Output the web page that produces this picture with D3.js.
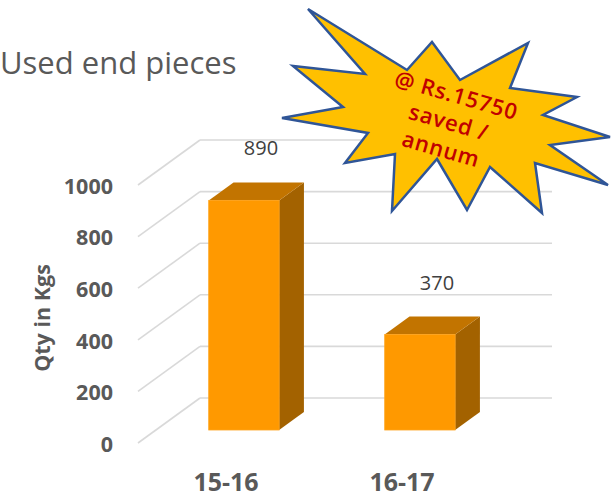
<!DOCTYPE html>
<html>
<head>
<meta charset="utf-8">
<script src="https://cdn.jsdelivr.net/npm/d3@7"></script>
<style>
  html, body { margin: 0; padding: 0; background: #fff; }
  svg { display: block; font-family: "Open Sans", "Noto Sans", sans-serif; }
</style>
</head>
<body>
<svg id="chart" width="616" height="497"></svg>
<script>
// Quantity of used end pieces per financial year (kg)
const categories = ["15-16", "16-17"];
const quantities = [890, 370];
const yTicks = [0, 200, 400, 600, 800, 1000];
const chartTitle = "Used end pieces";
const yAxisTitle = "Qty in Kgs";
const calloutLines = ["@ Rs.15750", "saved /", "annum"];

const svg = d3.select("#chart");

// Back wall of the 3D plot area
const wallLeft = 200, wallRight = 552;
const y = d3.scaleLinear().domain([0, 1000]).range([398, 140]);
const x = d3.scaleBand().domain(categories).range([wallLeft, wallRight]).paddingInner(0.6).paddingOuter(0.3);

// Oblique depth projection: depth 0 = back wall, 1 = front edge of the floor
const depthDX = -62, depthDY = 45;
const proj = (px, py, d) => [px + depthDX * d, py + depthDY * d];

// Back-wall gridlines and floor/side diagonals
const grid = svg.append("g").attr("stroke", "#d9d9d9").attr("stroke-width", 1.6).attr("fill", "none");
yTicks.forEach(t => {
  const yy = y(t);
  grid.append("line").attr("x1", wallLeft).attr("x2", wallRight).attr("y1", yy).attr("y2", yy);
  const [fx, fy] = proj(wallLeft, yy, 1);
  grid.append("line").attr("x1", fx).attr("y1", fy).attr("x2", wallLeft).attr("y2", yy);
});

// Tick labels on the front edge
svg.append("g").selectAll("text").data(yTicks).join("text")
  .attr("x", 113)
  .attr("y", d => proj(wallLeft, y(d), 1)[1] + 3)
  .attr("text-anchor", "end")
  .attr("dominant-baseline", "middle")
  .attr("font-size", 21.5)
  .attr("font-weight", 700)
  .attr("fill", "#595959")
  .text(d => d);

// Axis title
svg.append("text")
  .attr("transform", "translate(50,318) rotate(-90)")
  .attr("text-anchor", "middle")
  .attr("font-size", 21.5)
  .attr("font-weight", 700)
  .attr("fill", "#595959")
  .text(yAxisTitle);

// 3D columns
const dFront = 0.711, dBack = 0.311;
const bars = svg.append("g");
categories.forEach((c, i) => {
  const v = quantities[i];
  const x0 = x(c), x1 = x(c) + x.bandwidth();
  const yt = y(v), yb = y(0);
  const F = (px, py) => proj(px, py, dFront);
  const B = (px, py) => proj(px, py, dBack);
  const poly = pts => pts.map(p => p.join(",")).join(" ");
  // right side
  bars.append("polygon")
    .attr("points", poly([F(x1, yt), B(x1, yt), B(x1, yb), F(x1, yb)]))
    .attr("fill", "#a36200");
  // top
  bars.append("polygon")
    .attr("points", poly([F(x0, yt), B(x0, yt), B(x1, yt), F(x1, yt)]))
    .attr("fill", "#c27400");
  // front
  const [fx0, fy0] = F(x0, yt), [fx1, fy1] = F(x1, yb);
  bars.append("rect")
    .attr("x", fx0).attr("y", fy0)
    .attr("width", fx1 - fx0).attr("height", fy1 - fy0)
    .attr("fill", "#ff9900")
    .attr("stroke", "#ffa31a").attr("stroke-width", 0.8);
});

// Value labels
svg.append("g").selectAll("text").data(quantities).join("text")
  .attr("x", (d, i) => x(categories[i]) + x.bandwidth() / 2 - 27)
  .attr("y", d => y(d) - 13)
  .attr("text-anchor", "middle")
  .attr("font-size", 20)
  .attr("fill", "#404040")
  .text(d => d);

// Category labels along the front edge of the floor
svg.append("g").selectAll("text").data(categories).join("text")
  .attr("x", d => proj(x(d) + x.bandwidth() / 2, 0, 1)[0])
  .attr("y", 491)
  .attr("text-anchor", "middle")
  .attr("font-size", 25)
  .attr("font-weight", 700)
  .attr("fill", "#595959")
  .text(d => d);

// Chart title
svg.append("text")
  .attr("x", 0)
  .attr("y", 74)
  .attr("font-size", 31)
  .attr("fill", "#595959")
  .text(chartTitle);

// Starburst callout
const burst = [
  [308, 9], [407, 70], [432, 42], [460, 80], [528, 43], [510, 88], [577, 97],
  [543, 115], [610, 137], [550, 145], [608, 185], [535, 163], [542, 213],
  [490, 167], [467, 210], [437, 159], [392, 211], [395, 154], [345, 163],
  [368, 133], [282, 118], [343, 107], [293, 66], [365, 74]
];
svg.append("polygon")
  .attr("points", burst.map(p => p.join(",")).join(" "))
  .attr("fill", "#ffc000")
  .attr("stroke", "#2f5597")
  .attr("stroke-width", 2.5)
  .attr("stroke-linejoin", "miter");

svg.append("g")
  .attr("transform", "translate(449,121) rotate(16)")
  .selectAll("text").data(calloutLines).join("text")
  .attr("x", 0)
  .attr("y", (d, i) => (i - 1) * 28)
  .attr("text-anchor", "middle")
  .attr("dominant-baseline", "central")
  .attr("font-size", 22)
  .attr("font-weight", 600)
  .attr("letter-spacing", 0.8)
  .attr("fill", "#c00000")
  .text(d => d);
</script>
</body>
</html>
